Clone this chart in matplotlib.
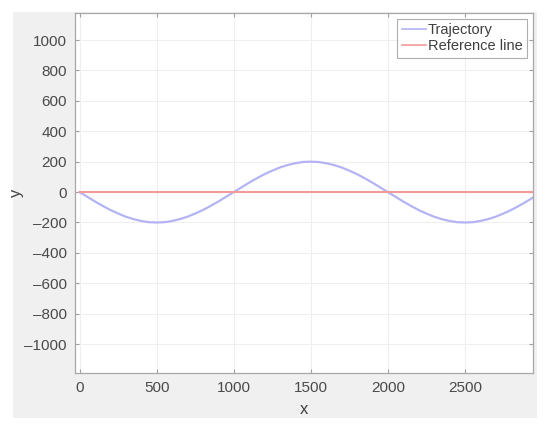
import matplotlib.pyplot as plt
from matplotlib.patches import Rectangle

plt.rcParams["font.family"] = ["Liberation Sans", "DejaVu Sans"]

# values
half_wave = [0, -31, -62, -91, -118, -141, -162, -178, -190, -198,
             -200, -198, -190, -178, -162, -141, -118, -91, -62, -31]
traj_x = list(range(0, 2950, 50)) + [2940]
traj_y = half_wave + [-v for v in half_wave] + half_wave[:19] + [-37]
ref_x = [0, 2940]
ref_y = [0, 0]
x_ticks = [0, 500, 1000, 1500, 2000, 2500]
y_ticks = [-1000, -800, -600, -400, -200, 0, 200, 400, 600, 800, 1000]

W, H = 550, 430
fig = plt.figure(figsize=(5.5, 4.3), dpi=100)
fig.patch.set_facecolor("white")
# gray figure panel behind the axes
fig.patches.append(Rectangle((13 / W, 1 - 418 / H), (537 - 13) / W, (418 - 12) / H,
                             transform=fig.transFigure, facecolor="#f0f0f0",
                             edgecolor="none", zorder=-10))

ax = fig.add_axes([75 / W, 1 - 373 / H, (533 - 75) / W, (373 - 13) / H])
ax.set_facecolor("white")

ax.plot(traj_x, traj_y, color="#b4b4f4", lw=1.6, label="Trajectory")
ax.plot(ref_x, ref_y, color="#f49a9a", lw=1.5, label="Reference line")

ax.set_xlim(-30, 2942)
ax.set_ylim(-1190, 1178)
ax.set_xticks(x_ticks)
ax.set_yticks(y_ticks)
ax.set_yticklabels([str(v).replace("-", "\u2013") for v in y_ticks])
ax.grid(True, color="#efefef", lw=0.8)
ax.set_axisbelow(True)

ax.tick_params(direction="in", length=3, width=0.8, colors="#a0a0a0",
               labelcolor="#4a4a4a", labelsize=11, top=True, right=True, pad=6)
for s in ax.spines.values():
    s.set_color("#a8a8a8")
    s.set_linewidth(0.9)

ax.set_xlabel("x", fontsize=12, color="#404040", labelpad=5)
ax.set_ylabel("y", fontsize=12, color="#404040", labelpad=0)

leg = ax.legend(loc="upper right", fontsize=10.5, frameon=True, fancybox=False,
                handlelength=1.65, handletextpad=0.15, borderpad=0.3,
                labelspacing=0.15, borderaxespad=0.4)
leg.get_frame().set_edgecolor("#9a9a9a")
leg.get_frame().set_linewidth(0.8)
for t in leg.get_texts():
    t.set_color("#404040")
for ln in leg.get_lines():
    ln.set_linewidth(1.2)

fig.savefig("out.png", dpi=100)
